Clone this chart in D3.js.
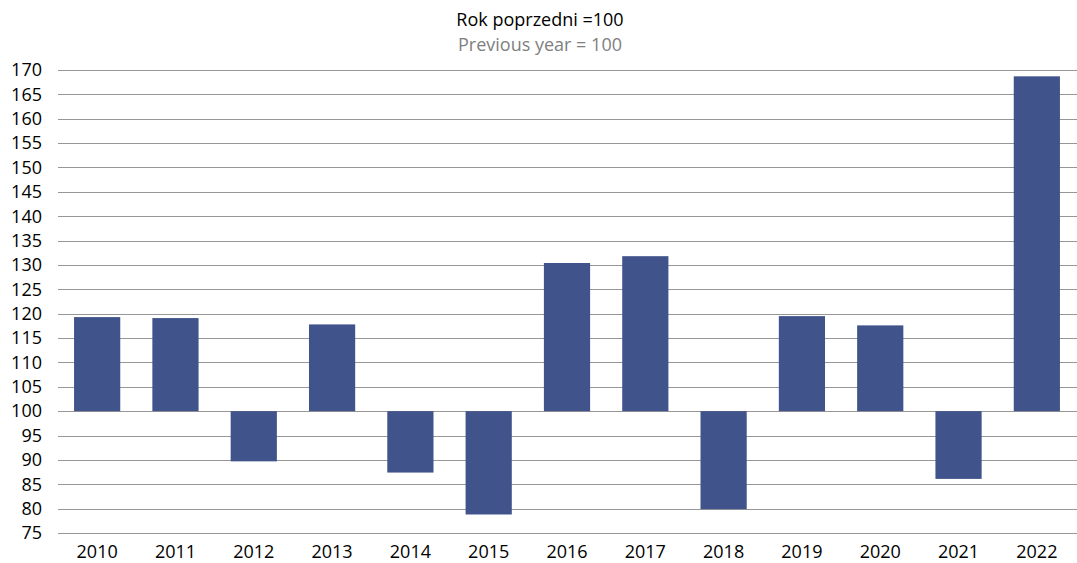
<!DOCTYPE html>
<html>
<head>
<meta charset="utf-8">
<script src="https://cdn.jsdelivr.net/npm/d3@7"></script>
<style>
  body { margin: 0; background: #fff; }
  svg text { font-family: "Open Sans", sans-serif; }
</style>
</head>
<body>
<svg id="chart" width="1077" height="563"></svg>
<script>
  // years and index values (previous year = 100)
  var years = ["2010", "2011", "2012", "2013", "2014", "2015", "2016", "2017", "2018", "2019", "2020", "2021", "2022"];
  var values = [119.3, 119.1, 89.7, 117.8, 87.4, 78.8, 130.4, 131.8, 79.9, 119.5, 117.6, 86.1, 168.7];
  var yTicks = [75, 80, 85, 90, 95, 100, 105, 110, 115, 120, 125, 130, 135, 140, 145, 150, 155, 160, 165, 170];

  var svg = d3.select("#chart");
  var plotLeft = 58, plotRight = 1076, plotTop = 70, plotBottom = 533;

  var x = d3.scaleBand().domain(years).range([plotLeft, plotRight]).paddingInner(0.41).paddingOuter(0.205);
  var y = d3.scaleLinear().domain([75, 170]).range([plotBottom, plotTop]);

  // gridlines
  svg.append("g").selectAll("line").data(yTicks).enter().append("line")
    .attr("x1", plotLeft).attr("x2", 1077)
    .attr("y1", function(d) { return Math.round(y(d)) + 0.5; })
    .attr("y2", function(d) { return Math.round(y(d)) + 0.5; })
    .attr("stroke", "#979797").attr("stroke-width", 1.2);

  // y labels
  svg.append("g").selectAll("text").data(yTicks).enter().append("text")
    .attr("x", 42).attr("y", function(d) { return y(d); })
    .attr("dy", "0.35em").attr("text-anchor", "end")
    .attr("font-size", 18).attr("fill", "#000")
    .text(function(d) { return d; });

  // bars from 100 baseline
  svg.append("g").selectAll("rect").data(values).enter().append("rect")
    .attr("x", function(d, i) { return x(years[i]); })
    .attr("width", x.bandwidth())
    .attr("y", function(d) { return y(Math.max(d, 100)); })
    .attr("height", function(d) { return Math.abs(y(d) - y(100)); })
    .attr("fill", "#41538b");

  // x labels
  svg.append("g").selectAll("text").data(years).enter().append("text")
    .attr("x", function(d) { return x(d) + x.bandwidth() / 2; })
    .attr("y", 558).attr("text-anchor", "middle")
    .attr("font-size", 18).attr("fill", "#000")
    .text(function(d) { return d; });

  // titles
  svg.append("text").attr("x", 540).attr("y", 26).attr("text-anchor", "middle")
    .attr("font-size", 18).attr("fill", "#000").text("Rok poprzedni =100");
  svg.append("text").attr("x", 540).attr("y", 51).attr("text-anchor", "middle")
    .attr("font-size", 18).attr("fill", "#808080").text("Previous year = 100");
</script>
</body>
</html>
